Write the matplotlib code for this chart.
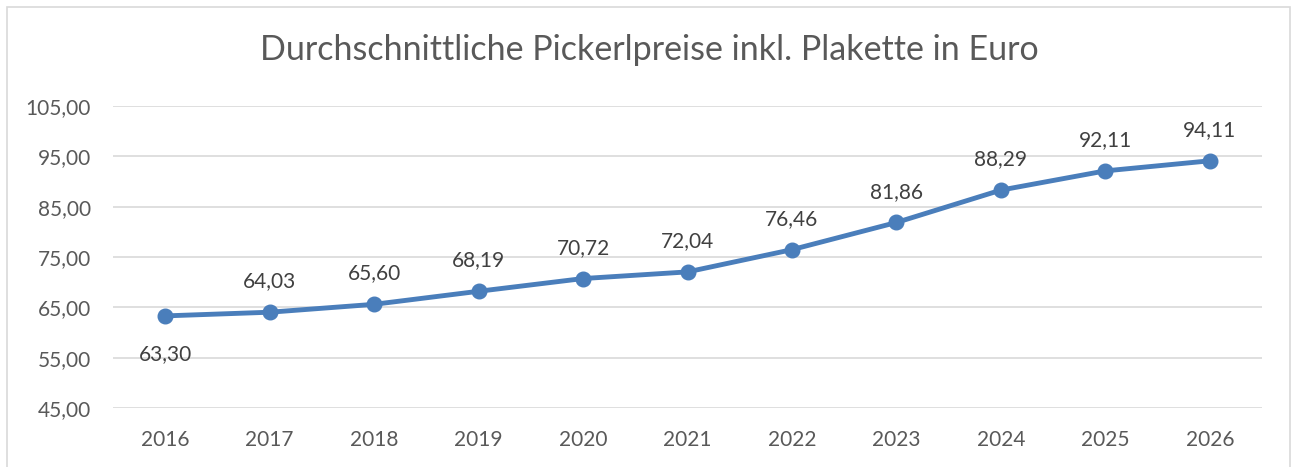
import matplotlib.pyplot as plt
from matplotlib.patches import Rectangle

years = ["2016", "2017", "2018", "2019", "2020", "2021", "2022", "2023", "2024", "2025", "2026"]
prices = [63.30, 64.03, 65.60, 68.19, 70.72, 72.04, 76.46, 81.86, 88.29, 92.11, 94.11]
y_ticks = [45, 55, 65, 75, 85, 95, 105]

plt.rcParams['font.family'] = ['Lato', 'DejaVu Sans']
text_col = '#595959'
line_col = '#4a7ebb'

W, H = 1291, 467
fig = plt.figure(figsize=(W / 100, H / 100), dpi=100)
ax = fig.add_axes([113 / W, 1 - 408 / H, (1262 - 113) / W, (408 - 106) / H])

# chart frame
fig.patches.append(Rectangle((6.5 / W, -0.05), (1290 - 6.5) / W, 1.05 - 7.5 / H,
                             transform=fig.transFigure, fill=False,
                             edgecolor='#d9d9d9', linewidth=1.2))

x = list(range(len(years)))
ax.plot(x, prices, color=line_col, linewidth=3.5, marker='o', markersize=10.5,
        solid_capstyle='round', zorder=3, clip_on=False)

def fmt(v):
    return f"{v:.2f}".replace('.', ',')

# data labels: first one sits below the point, the rest above
for i, v in enumerate(prices):
    if i == 0:
        ax.annotate(fmt(v), (i, v), xytext=(0, -20), textcoords='offset points',
                    ha='center', va='top', fontsize=15, color='#404040')
    else:
        ax.annotate(fmt(v), (i, v), xytext=(0, 15), textcoords='offset points',
                    ha='center', va='bottom', fontsize=15, color='#404040')

ax.set_xlim(-0.5, len(years) - 0.5)
ax.set_ylim(45, 105)
ax.set_yticks(y_ticks)
ax.set_yticklabels([fmt(t) for t in y_ticks])
ax.set_xticks(x)
ax.set_xticklabels(years)
ax.tick_params(axis='y', length=0, labelsize=15, labelcolor=text_col, pad=16)
ax.tick_params(axis='x', length=0, labelsize=15, labelcolor=text_col, pad=16)
ax.grid(axis='y', color='#d9d9d9', linewidth=1.2)
ax.set_axisbelow(True)
for s in ax.spines.values():
    s.set_visible(False)

fig.text(649 / W, 1 - 50 / H, "Durchschnittliche Pickerlpreise inkl. Plakette in Euro",
         ha='center', va='center', fontsize=24.5, color=text_col)

fig.savefig('out.png', dpi=100)
